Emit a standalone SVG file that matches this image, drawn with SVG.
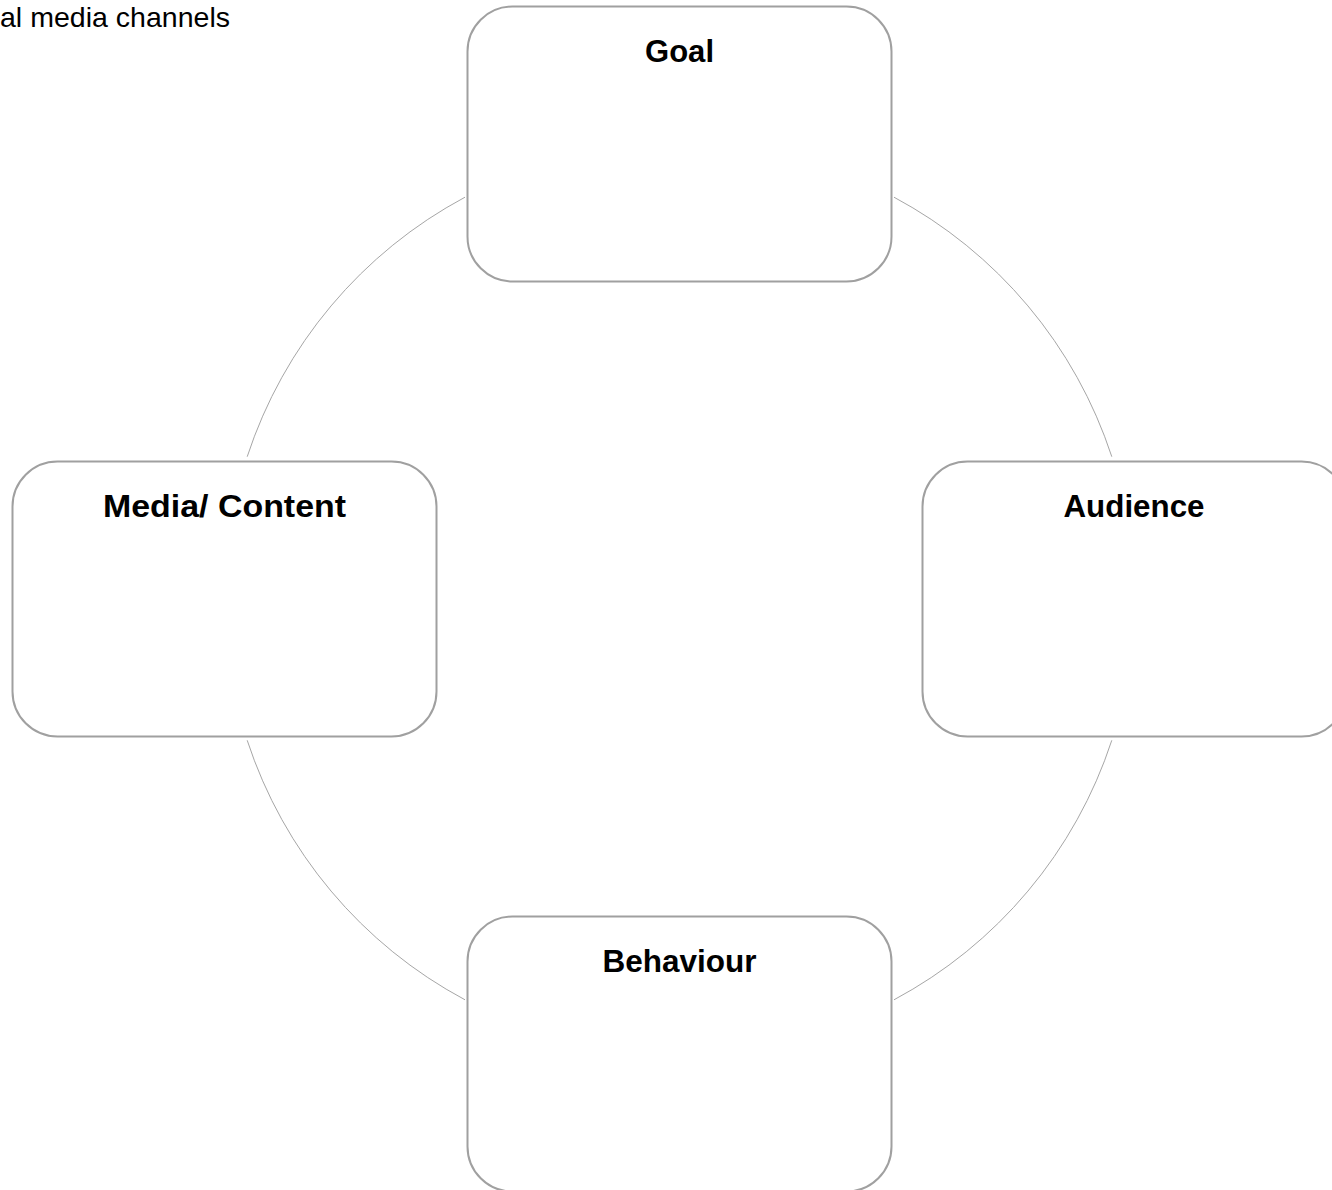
<svg xmlns="http://www.w3.org/2000/svg" width="1332" height="1190" viewBox="0 0 1332 1190">
  <style>
    .box { fill: #ffffff; stroke: #a0a0a0; stroke-width: 2; }
    .arc { fill: none; stroke: #a6a6a6; stroke-width: 1; }
    .label { font-family: "Liberation Sans", Arial, sans-serif; font-weight: bold; font-size: 32px; fill: #000000; text-anchor: middle; }
    .note { font-family: "Liberation Sans", Arial, sans-serif; font-size: 28px; fill: #000000; }
  </style>
  <rect x="0" y="0" width="1332" height="1190" fill="#ffffff"/>
  <text class="note" x="0" y="27" textLength="230" lengthAdjust="spacingAndGlyphs">al media channels</text>
  <g id="connectors">
    <path class="arc" d="M 894 197.2 A 455 455 0 0 1 1111.8 456.7"/>
    <path class="arc" d="M 1111.8 740.3 A 455 455 0 0 1 894 999.8"/>
    <path class="arc" d="M 465 999.8 A 455 455 0 0 1 247.2 740.3"/>
    <path class="arc" d="M 247.2 456.7 A 455 455 0 0 1 465 197.2"/>
  </g>
  <g id="goal">
    <rect class="box" x="467.5" y="6.5" width="424" height="275" rx="45" ry="45"/>
    <text class="label" x="679.5" y="62" textLength="69" lengthAdjust="spacingAndGlyphs">Goal</text>
  </g>
  <g id="audience">
    <rect class="box" x="922.5" y="461.5" width="424" height="275" rx="45" ry="45"/>
    <text class="label" x="1134" y="517" textLength="141" lengthAdjust="spacingAndGlyphs">Audience</text>
  </g>
  <g id="behaviour">
    <rect class="box" x="467.5" y="916.5" width="424" height="275" rx="45" ry="45"/>
    <text class="label" x="679.5" y="972" textLength="154" lengthAdjust="spacingAndGlyphs">Behaviour</text>
  </g>
  <g id="media-content">
    <rect class="box" x="12.5" y="461.5" width="424" height="275" rx="45" ry="45"/>
    <text class="label" x="224.5" y="517" textLength="243" lengthAdjust="spacingAndGlyphs">Media/ Content</text>
  </g>
</svg>
